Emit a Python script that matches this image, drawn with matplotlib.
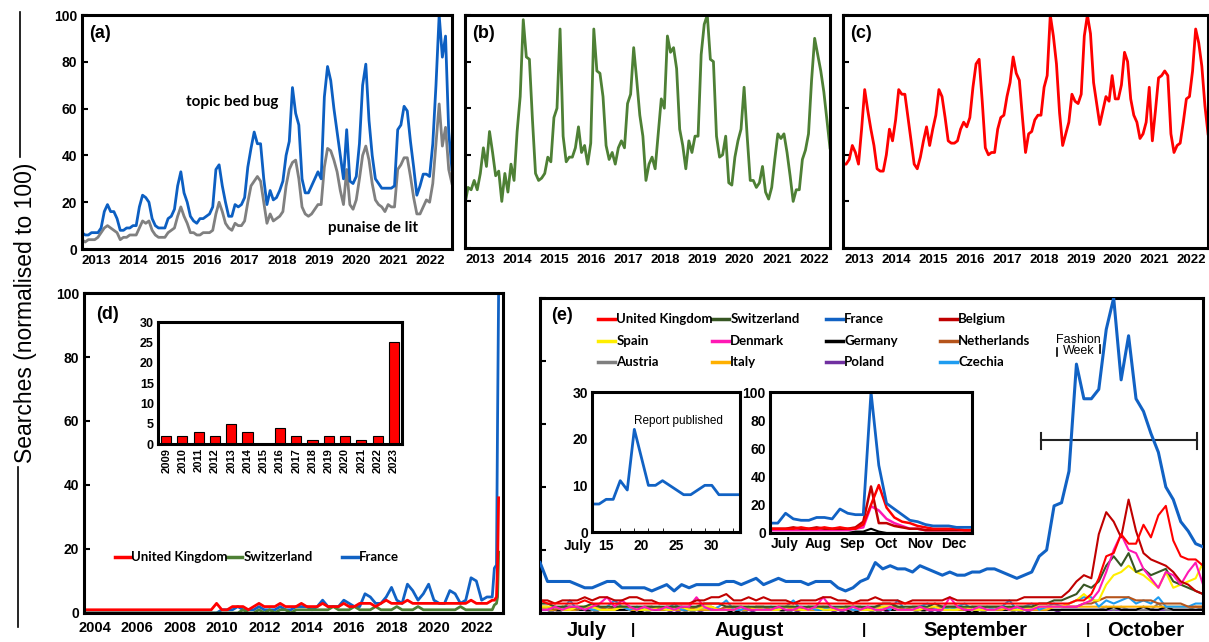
import numpy as np
import matplotlib
matplotlib.use("Agg")
import matplotlib.pyplot as plt
from matplotlib.lines import Line2D
from matplotlib.transforms import blended_transform_factory

plt.rcParams['font.family'] = ['Liberation Sans', 'DejaVu Sans']

# ---------------- datos ----------------
# (a) Francia, mensual
a_years = ['2013', '2014', '2015', '2016', '2017', '2018', '2019', '2020', '2021', '2022']
a_topic = [7, 6, 6, 7, 7, 7, 9, 16, 19, 16, 16, 13, 8, 8, 9, 9, 10, 10, 18, 23,
           22, 20, 13, 10, 9, 9, 9, 13, 14, 17, 27, 33, 24, 20, 14, 12, 11, 13, 13, 14,
           15, 18, 34, 36, 27, 20, 14, 14, 19, 18, 19, 22, 35, 43, 50, 45, 45, 30, 19, 25,
           21, 22, 25, 29, 40, 46, 69, 58, 53, 30, 24, 24, 27, 30, 33, 30, 65, 78, 72, 60,
           50, 40, 30, 51, 29, 28, 31, 45, 70, 79, 55, 40, 30, 28, 26, 26, 26, 26, 27, 51,
           53, 61, 59, 46, 35, 23, 27, 32, 32, 31, 45, 70, 100, 82, 91, 50, 34]
a_punaise = [4, 3, 4, 4, 4, 5, 7, 9, 10, 9, 8, 7, 4, 5, 5, 6, 6, 6, 9, 12,
             11, 12, 8, 6, 5, 5, 5, 7, 8, 9, 14, 18, 14, 11, 7, 7, 6, 6, 7, 7,
             7, 8, 15, 20, 16, 11, 9, 8, 11, 10, 10, 12, 20, 27, 29, 31, 29, 20, 11, 15,
             12, 13, 14, 16, 27, 34, 37, 38, 30, 18, 15, 14, 15, 17, 19, 19, 35, 43, 42, 38,
             33, 25, 19, 34, 19, 17, 21, 30, 40, 44, 38, 28, 21, 19, 18, 16, 19, 18, 18, 34,
             36, 39, 39, 31, 22, 15, 15, 18, 21, 20, 28, 45, 62, 44, 52, 34, 28]

# (b) Suiza
b_values = [19, 26, 25, 29, 25, 32, 43, 35, 50, 41, 31, 33, 20, 32, 24, 36, 29, 50, 65, 98,
            82, 81, 55, 32, 29, 30, 32, 39, 37, 56, 60, 94, 48, 37, 39, 39, 43, 52, 41, 44,
            36, 45, 94, 76, 75, 65, 44, 38, 41, 36, 43, 46, 43, 62, 66, 86, 72, 57, 48, 29,
            36, 39, 34, 49, 64, 60, 91, 84, 86, 77, 51, 44, 34, 46, 41, 48, 48, 83, 96, 100,
            81, 80, 48, 39, 40, 48, 28, 27, 39, 46, 51, 69, 48, 29, 29, 26, 28, 35, 24, 21,
            26, 38, 49, 47, 49, 41, 31, 20, 25, 25, 38, 42, 49, 72, 90, 83, 76, 67, 55, 43]

# (c) Reino Unido
c_values = [36, 36, 38, 44, 41, 36, 51, 68, 59, 51, 44, 34, 33, 33, 40, 51, 46, 55, 68, 66,
            66, 56, 46, 36, 34, 39, 46, 52, 44, 51, 57, 68, 65, 56, 46, 45, 45, 46, 51, 54,
            52, 56, 69, 79, 81, 63, 43, 40, 41, 41, 51, 56, 57, 65, 71, 82, 75, 72, 56, 41,
            49, 50, 55, 57, 57, 69, 74, 100, 91, 79, 58, 44, 49, 54, 66, 63, 62, 66, 91, 100,
            92, 71, 62, 53, 59, 65, 63, 74, 64, 64, 70, 84, 80, 64, 57, 54, 47, 49, 54, 69,
            46, 59, 73, 74, 76, 74, 49, 41, 44, 45, 54, 64, 65, 76, 94, 88, 78, 61, 49]

# (d) 2004-2023, trimestral + ultimos meses
d_tail_years = [2023.35, 2023.45, 2023.5, 2023.55]
d_fr = [0] * 26 + [1, 1, 1, 2, 1, 1, 1, 2, 1, 1, 1, 2, 1, 1, 2, 2, 2, 1, 2, 4,
                   2, 2, 2, 4, 3, 2, 2, 6, 5, 3, 3, 5, 8, 4, 3, 9, 7, 4, 6, 9,
                   4, 3, 3, 7, 6, 3, 4, 11, 10, 4, 5, 5] + [14, 15, 60, 100]
d_uk = [1, 1, 1, 1, 1, 1, 1, 1, 1, 1, 1, 1, 1, 1, 1, 1, 1, 1, 1, 1,
        1, 1, 1, 1, 1, 3, 1, 1, 2, 2, 2, 1, 2, 3, 2, 2, 2, 3, 2, 2,
        2, 3, 2, 2, 2, 3, 2, 2, 2, 3, 2, 2, 3, 3, 3, 2, 3, 4, 3, 3,
        3, 4, 3, 3, 3, 3, 3, 3, 3, 3, 3, 3, 3, 4, 3, 3, 3, 4] + [4, 5, 15, 36]
d_ch = [0] * 28 + [0, 0, 1, 0, 0, 1, 0, 1, 0, 1, 1, 0, 1, 1, 1, 1, 1, 1, 1, 2,
                   1, 1, 1, 2, 1, 1, 1, 2, 1, 1, 1, 2, 1, 1, 1, 2, 1, 1, 1, 1,
                   1, 1, 1, 2, 1, 1, 1, 1, 1, 1] + [2.5, 3, 5, 19]
d_bar_years = ['2009', '2010', '2011', '2012', '2013', '2014', '2015', '2016',
               '2017', '2018', '2019', '2020', '2021', '2022', '2023']
d_bar_values = [2, 2, 3, 2, 5, 3, 0, 4, 2, 1, 2, 2, 1, 2, 25]

# (e) diario, 19 julio - 16 octubre 2023
e_names = ['United Kingdom', 'Switzerland', 'France', 'Belgium',
           'Spain', 'Denmark', 'Germany', 'Netherlands',
           'Austria', 'Italy', 'Poland', 'Czechia']
e_colors = ['#ff0000', '#375623', '#1162c4', '#c00000',
            '#ffee00', '#ff18b4', '#000000', '#b5541b',
            '#7f7f7f', '#ffb000', '#7030a0', '#1e9cf0']
e_uk = [4, 3, 3, 3, 3, 3, 4, 3, 3, 3, 3, 3, 3, 3, 3, 3, 3, 3, 3, 3,
        3, 3, 3, 3, 3, 3, 3, 3, 3, 3, 3, 3, 3, 3, 3, 3, 3, 3, 3, 3,
        3, 3, 3, 3, 3, 3, 3, 3, 3, 3, 3, 3, 3, 3, 3, 3, 3, 3, 3, 3,
        3, 3, 3, 3, 3, 3, 3, 3, 3, 3, 3, 3, 4, 4, 6, 11, 18, 19, 25, 22,
        22, 28, 24, 31, 34, 23, 18, 17, 17, 15]
e_ch = [3, 3, 2, 2, 2, 2, 2, 3, 2, 2, 2, 2, 2, 2, 2, 2, 2, 2, 2, 2,
        2, 2, 3, 3, 3, 2, 2, 2, 2, 2, 2, 2, 2, 2, 2, 2, 2, 2, 2, 2,
        2, 2, 2, 2, 2, 2, 3, 3, 2, 2, 2, 2, 2, 3, 2, 2, 2, 2, 2, 2,
        2, 2, 2, 2, 2, 2, 2, 3, 3, 4, 4, 5, 6, 9, 8, 10, 15, 18, 15, 19,
        13, 14, 12, 13, 14, 10, 9, 8, 7, 6]
e_fr = [16, 10, 10, 10, 10, 9, 8, 8, 9, 10, 10, 8, 8, 8, 8, 7, 8, 9, 7, 9,
        8, 9, 9, 9, 9, 10, 10, 9, 10, 11, 9, 10, 11, 10, 10, 10, 9, 10, 10, 10,
        8, 7, 8, 10, 11, 16, 14, 15, 14, 14, 13, 15, 14, 13, 12, 13, 12, 12, 13, 13,
        14, 14, 13, 12, 11, 12, 13, 18, 20, 34, 35, 45, 79, 68, 68, 71, 90, 100, 74, 88,
        68, 64, 57, 51, 40, 36, 29, 26, 22, 21]
e_be = [4, 4, 3, 4, 4, 4, 5, 4, 5, 5, 4, 4, 5, 5, 4, 4, 3, 3, 3, 3,
        3, 4, 4, 5, 5, 6, 4, 4, 5, 4, 5, 4, 4, 4, 3, 4, 4, 4, 5, 5,
        4, 4, 3, 4, 4, 5, 4, 4, 4, 3, 4, 4, 4, 4, 4, 5, 4, 4, 4, 4,
        4, 4, 4, 4, 4, 5, 5, 5, 5, 5, 5, 7, 10, 12, 11, 25, 32, 29, 24, 36,
        26, 19, 17, 16, 15, 13, 10, 9, 7, 6]
e_es = [2, 2, 2, 1, 1, 2, 2, 2, 1, 1, 1, 2, 2, 1, 1, 1, 2, 1, 1, 2,
        1, 1, 2, 2, 1, 1, 1, 2, 2, 1, 1, 1, 1, 2, 2, 1, 1, 2, 1, 1,
        1, 2, 2, 1, 1, 1, 2, 2, 1, 1, 1, 1, 2, 2, 1, 1, 1, 2, 1, 1,
        1, 1, 2, 1, 1, 1, 2, 2, 2, 2, 2, 3, 4, 6, 4, 4, 9, 12, 13, 15,
        13, 12, 10, 8, 13, 8, 9, 10, 11, 16]
e_dk = [1, 1, 2, 1, 2, 2, 1, 2, 3, 5, 2, 4, 2, 1, 2, 1, 1, 2, 1, 2,
        2, 5, 2, 1, 1, 1, 1, 2, 1, 1, 1, 1, 2, 1, 1, 2, 1, 2, 5, 2,
        1, 1, 2, 1, 2, 1, 1, 2, 1, 1, 1, 2, 1, 1, 1, 5, 2, 1, 1, 2,
        1, 1, 2, 1, 2, 1, 1, 2, 2, 2, 2, 2, 2, 3, 4, 7, 13, 20, 25, 20,
        19, 14, 11, 8, 13, 12, 9, 13, 16, 9]
e_de = [1, 1, 1, 1, 1, 1, 1, 1, 1, 1, 1, 1, 1, 0, 1, 1, 1, 1, 1, 1,
        1, 1, 1, 1, 1, 1, 0, 1, 1, 1, 1, 1, 1, 1, 1, 1, 1, 1, 1, 1,
        1, 1, 0, 1, 1, 1, 1, 1, 1, 1, 1, 1, 1, 1, 1, 1, 1, 1, 0, 1,
        1, 1, 1, 1, 1, 1, 1, 1, 1, 1, 1, 1, 1, 1, 1, 1, 1, 2, 1, 1,
        1, 2, 1, 1, 2, 1, 1, 1, 1, 1]
e_nl = [2, 2, 1, 2, 2, 1, 2, 2, 2, 1, 2, 2, 2, 1, 2, 2, 1, 2, 2, 2,
        1, 2, 2, 2, 1, 2, 2, 2, 1, 2, 2, 1, 2, 2, 2, 1, 2, 2, 2, 2,
        1, 2, 2, 2, 1, 2, 2, 2, 2, 1, 2, 2, 1, 2, 2, 2, 2, 1, 2, 2,
        2, 2, 2, 1, 2, 2, 2, 2, 2, 2, 2, 2, 2, 3, 3, 4, 5, 5, 5, 5,
        4, 4, 4, 3, 3, 3, 3, 2, 2, 2]
e_at = [1, 1, 0, 1, 1, 1, 1, 0, 1, 1, 1, 1, 1, 1, 0, 1, 1, 1, 1, 1,
        0, 1, 1, 1, 1, 1, 1, 0, 1, 1, 1, 1, 1, 0, 1, 1, 1, 1, 1, 1,
        1, 1, 1, 1, 1, 0, 1, 1, 1, 1, 1, 0, 1, 1, 1, 1, 1, 1, 1, 0,
        1, 1, 1, 1, 0, 1, 1, 1, 1, 1, 1, 1, 1, 1, 1, 1, 2, 1, 2, 1,
        1, 1, 1, 3, 1, 1, 1, 1, 2, 1]
e_it = [2, 1, 1, 2, 1, 1, 2, 1, 1, 1, 1, 2, 1, 1, 1, 2, 1, 1, 1, 1,
        2, 1, 1, 1, 1, 1, 2, 1, 1, 2, 1, 1, 1, 2, 1, 1, 1, 1, 2, 1,
        1, 1, 2, 1, 1, 1, 1, 2, 1, 1, 1, 2, 1, 1, 1, 1, 1, 1, 2, 1,
        1, 1, 1, 2, 1, 1, 1, 1, 1, 2, 2, 2, 2, 2, 2, 2, 2, 2, 2, 2,
        2, 2, 2, 2, 2, 2, 2, 2, 2, 2]
e_pl = [0, 0, 1, 0, 0, 0, 0, 1, 0, 0, 0, 0, 0, 1, 0, 0, 0, 0, 1, 0,
        0, 1, 0, 0, 0, 0, 0, 0, 1, 0, 0, 0, 0, 0, 1, 0, 0, 0, 0, 0,
        1, 0, 0, 0, 0, 0, 1, 0, 0, 0, 0, 0, 0, 1, 0, 0, 0, 0, 0, 1,
        0, 0, 0, 0, 0, 1, 0, 0, 0, 0, 1, 1, 1, 1, 1, 1, 1, 1, 1, 1,
        1, 1, 1, 1, 1, 1, 1, 1, 1, 1]
e_cz = [1, 1, 2, 1, 4, 1, 2, 1, 1, 2, 4, 2, 1, 2, 1, 1, 2, 1, 3, 1,
        1, 1, 2, 1, 2, 4, 1, 1, 2, 1, 1, 2, 1, 2, 4, 1, 2, 1, 1, 2,
        1, 2, 1, 1, 2, 1, 2, 1, 4, 1, 1, 2, 3, 1, 2, 1, 2, 3, 1, 1,
        2, 1, 2, 4, 1, 2, 3, 1, 2, 3, 2, 3, 4, 5, 5, 2, 4, 3, 4, 5,
        3, 4, 3, 5, 2, 2, 2, 2, 3, 3]
e_series = [e_uk, e_ch, e_fr, e_be, e_es, e_dk, e_de, e_nl, e_at, e_it, e_pl, e_cz]
e_months = ['July', 'August', 'September', 'October']

# insets de (e)
jul_days = list(range(13, 35))
jul_france = [6, 6, 7, 7, 11, 9, 22, 16, 10, 10, 11, 10, 9, 8, 8, 9, 10, 10, 8, 8, 8, 8]
wk_months = ['July', 'Aug', 'Sep', 'Oct', 'Nov', 'Dec']
wk_fr = [7, 7, 14, 10, 9, 9, 11, 11, 10, 17, 14, 13, 13, 100, 48, 21, 17, 13, 9, 8, 6, 5, 5, 5, 4, 4, 4]
wk_uk = [3, 3, 3, 3, 4, 3, 3, 4, 3, 4, 3, 3, 6, 20, 34, 18, 11, 8, 7, 5, 4, 3, 3, 3, 3, 2, 2]
wk_be = [3, 3, 3, 4, 3, 3, 4, 3, 3, 3, 3, 4, 8, 33, 7, 7, 5, 4, 3, 3, 2, 2, 2, 2, 2, 2, 2]
wk_dk = [2, 2, 2, 2, 2, 2, 2, 2, 2, 2, 2, 3, 4, 19, 16, 10, 7, 5, 3, 3, 2, 2, 2, 2, 2, 2, 2]
wk_de = [0, 0, 0, 0, 0, 0, 0, 0, 0, 0, 0, 1, 1, 3, 1, 0, 0, 0, 0, 0, 0, 0, 0, 0, 0, 0, 0]

BOLD = dict(fontweight='bold')
LEG = dict(family=['Lato', 'DejaVu Sans'], fontweight='bold', fontsize=9.5)


def marco(ax, lw=2.2):
    for s in ax.spines.values():
        s.set_linewidth(lw)
        s.set_color('black')


def panel_anual(rect, series, colors, f0, f1, letra, ylabels=False):
    ax = fig.add_axes(rect)
    n = len(series[0])
    x = np.arange(n)
    for s, c in zip(series, colors):
        ax.plot(x, s, color=c, lw=2)
    ax.set_xlim(0, n - 1)
    ax.set_ylim(0, 100)
    ax.set_xticks(np.linspace(f0, f1, len(a_years)) * (n - 1))
    ax.set_xticklabels(a_years, fontsize=9.5, **BOLD)
    ax.tick_params(axis='x', length=0, pad=4)
    ax.set_yticks(range(0, 101, 20))
    ax.tick_params(axis='y', direction='in', length=4, width=1.5, labelsize=10, labelleft=ylabels)
    if ylabels:
        for t in ax.get_yticklabels():
            t.set_fontweight('bold')
    ax.text(0.02, 0.92, letra, transform=ax.transAxes, fontsize=13, va='center', **BOLD)
    marco(ax)
    return ax


fig = plt.figure(figsize=(12.09, 6.42), dpi=100)

# ---------------- (a) (b) (c) ----------------
ax_a = panel_anual([0.0678, 0.6121, 0.3060, 0.3645], [a_punaise, a_topic],
                   ['#808080', '#0c5fc2'], 0.038, 0.942, '(a)', ylabels=True)
ax_a.text(0.405, 0.628, 'topic bed bug', transform=ax_a.transAxes, ha='center', va='center',
          family=['Lato', 'DejaVu Sans'], fontweight='bold', fontsize=11)
ax_a.text(0.786, 0.090, 'punaise de lit', transform=ax_a.transAxes, ha='center', va='center',
          family=['Lato', 'DejaVu Sans'], fontweight='bold', fontsize=11)

ax_b = panel_anual([0.3846, 0.6137, 0.3019, 0.3629], [b_values], ['#4e8035'], 0.041, 0.956, '(b)')
ax_c = panel_anual([0.6973, 0.6137, 0.3019, 0.3629], [c_values], ['#ff0000'], 0.044, 0.955, '(c)')

# ---------------- (d) ----------------
ax_d = fig.add_axes([0.0695, 0.0452, 0.3466, 0.4984])
d_x = np.concatenate([2004 + np.arange(len(d_uk) - len(d_tail_years)) / 4, d_tail_years])
ax_d.plot(d_x, d_fr, color='#1162c4', lw=2)
ax_d.plot(d_x, d_ch, color='#4e8035', lw=2)
ax_d.plot(d_x, d_uk, color='#ff0000', lw=2)
ax_d.set_xlim(2004, 2023.76)
ax_d.set_ylim(0, 100)
ax_d.set_xticks(np.arange(2004, 2023, 2) + 0.5)
ax_d.set_xticklabels([str(y) for y in range(2004, 2023, 2)], fontsize=10.5, **BOLD)
ax_d.tick_params(axis='x', length=0, pad=6)
ax_d.set_yticks(range(0, 101, 20))
ax_d.tick_params(axis='y', direction='in', length=4, width=1.5, labelsize=10)
for t in ax_d.get_yticklabels():
    t.set_fontweight('bold')
ax_d.text(0.029, 0.934, '(d)', transform=ax_d.transAxes, fontsize=13, va='center', **BOLD)
marco(ax_d)

# leyenda de (d), hecha a mano para respetar las columnas
d_leg = [('United Kingdom', '#ff0000', 0.074), ('Switzerland', '#4e8035', 0.341), ('France', '#1162c4', 0.616)]
for nombre, col, x0 in d_leg:
    ax_d.add_line(Line2D([x0, x0 + 0.037], [0.175, 0.175], color=col, lw=2.5, transform=ax_d.transAxes))
    ax_d.text(x0 + 0.039, 0.175, nombre, transform=ax_d.transAxes, va='center', **LEG)

# inset barras
ax_di = fig.add_axes([0.1307, 0.3084, 0.2018, 0.1900])
ax_di.bar(np.arange(len(d_bar_values)), d_bar_values, width=0.62, color='#ff0000', edgecolor='black', lw=0.8)
ax_di.set_xlim(-0.5, len(d_bar_values) - 0.5)
ax_di.set_ylim(0, 30)
ax_di.set_yticks(range(0, 31, 5))
ax_di.set_xticks(np.arange(len(d_bar_years)))
ax_di.set_xticklabels(d_bar_years, rotation=90, fontsize=8, **BOLD)
ax_di.tick_params(axis='x', length=0, pad=3)
ax_di.tick_params(axis='y', length=0, labelsize=9, pad=3)
for t in ax_di.get_yticklabels():
    t.set_fontweight('bold')
marco(ax_di, 2.2)

# ---------------- (e) ----------------
ax_e = fig.add_axes([0.4467, 0.0452, 0.5484, 0.4907])
dias = np.arange(len(e_fr))
orden = [10, 8, 6, 9, 11, 7, 4, 1, 5, 3, 0, 2]
for k in orden:
    grosor = 2.2 if e_names[k] == 'France' else 1.5
    ax_e.plot(dias, e_series[k], color=e_colors[k], lw=grosor, zorder=2 + (k == 2))
ax_e.set_xlim(0, len(e_fr) - 1)
ax_e.set_ylim(0, 100)
ax_e.set_xticks([])
ax_e.set_yticks(range(0, 101, 20))
ax_e.tick_params(axis='y', direction='in', length=4, width=1.5, labelleft=False)
ax_e.text(0.017, 0.943, '(e)', transform=ax_e.transAxes, fontsize=13, va='center', **BOLD)
marco(ax_e)

# meses debajo del eje
trans_e = blended_transform_factory(ax_e.transData, ax_e.transAxes)
separadores = [12.5, 43.5, 73.5]
bordes = [0] + separadores + [len(e_fr) - 1]
for i, mes in enumerate(e_months):
    ax_e.text((bordes[i] + bordes[i + 1]) / 2, -0.055, mes, transform=trans_e,
              ha='center', va='center', fontsize=14.5, **BOLD)
for s in separadores:
    ax_e.text(s, -0.055, '|', transform=trans_e, ha='center', va='center', fontsize=11, **BOLD)

# leyenda de (e): 4 columnas x 3 filas
col_x = [0.0875, 0.2594, 0.4314, 0.6033]
fila_y = [0.933, 0.863, 0.797]
for k, (nombre, col) in enumerate(zip(e_names, e_colors)):
    x0 = col_x[k % 4]
    y0 = fila_y[k // 4]
    ax_e.add_line(Line2D([x0, x0 + 0.0256], [y0, y0], color=col, lw=2.5, transform=ax_e.transAxes))
    ax_e.text(x0 + 0.0275, y0, nombre, transform=ax_e.transAxes, va='center', **LEG)

# fashion week
ax_e.plot([67.3, 88.2], [55, 55], color='#222222', lw=1.5)
ax_e.plot([67.3, 67.3], [52, 57], color='#222222', lw=1.5)
ax_e.plot([88.2, 88.2], [52, 57], color='#222222', lw=1.5)
ax_e.text(72.3, 84.9, 'Fashion\nWeek', ha='center', va='center', fontsize=9, linespacing=0.9)
ax_e.plot([69.4, 69.4], [81.6, 84.1], color='black', lw=1.2)
ax_e.plot([75.1, 75.1], [82.5, 85.0], color='black', lw=1.2)

# inset julio
ax_j = fig.add_axes([0.4897, 0.1713, 0.1224, 0.2181])
ax_j.plot(jul_days, jul_france, color='#1162c4', lw=2)
ax_j.set_xlim(jul_days[0], jul_days[-1])
ax_j.set_ylim(0, 30)
ax_j.set_yticks([0, 10, 20, 30])
ax_j.set_xticks([15, 20, 25, 30])
ax_j.set_xticks(np.arange(15, 35, 2), minor=True)
ax_j.tick_params(axis='x', which='major', length=0, labelsize=10, pad=5)
ax_j.tick_params(axis='x', which='minor', direction='in', length=3)
ax_j.tick_params(axis='y', length=0, labelsize=10, pad=3)
for t in ax_j.get_xticklabels() + ax_j.get_yticklabels():
    t.set_fontweight('bold')
trans_j = blended_transform_factory(ax_j.transData, ax_j.transAxes)
ax_j.text(11.0, -0.05, 'July', transform=trans_j, ha='center', va='top', fontsize=10, **BOLD)
ax_j.text(25.2, 23.8, 'Report published', ha='center', va='center', fontsize=8.5)
marco(ax_j, 2.2)

# inset semanal jul-dic
ax_w = fig.add_axes([0.6369, 0.1698, 0.1671, 0.2196])
sem = np.arange(len(wk_fr))
ax_w.plot(sem, wk_de, color='black', lw=1.5)
ax_w.plot(sem, wk_dk, color='#ff18b4', lw=1.8)
ax_w.plot(sem, wk_be, color='#c00000', lw=1.8)
ax_w.plot(sem, wk_uk, color='#ff0000', lw=1.8)
ax_w.plot(sem, wk_fr, color='#1162c4', lw=2)
ax_w.set_xlim(0, len(wk_fr) - 1)
ax_w.set_ylim(0, 100)
ax_w.set_yticks(range(0, 101, 20))
ax_w.set_xticks(1.9 + 4.34 * np.arange(len(wk_months)))
ax_w.set_xticklabels(wk_months)
ax_w.tick_params(axis='both', length=0, labelsize=10, pad=3)
for t in ax_w.get_xticklabels() + ax_w.get_yticklabels():
    t.set_fontweight('bold')
marco(ax_w, 2.2)

# etiqueta comun del eje y con sus rayas
fig.text(0.0207, 0.5125, 'Searches (normalised to 100)', rotation=90, ha='center', va='center', fontsize=16.5)
fig.add_artist(Line2D([0.0165, 0.0165], [0.9813, 0.7555], color='black', lw=1.2, transform=fig.transFigure))
fig.add_artist(Line2D([0.0149, 0.0149], [0.2726, 0.0234], color='black', lw=1.2, transform=fig.transFigure))

plt.savefig('out.png', dpi=100)
plt.close()
